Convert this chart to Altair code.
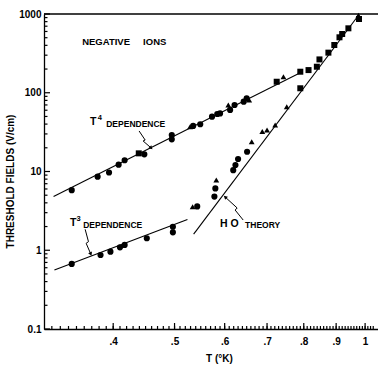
import altair as alt
import pandas as pd

# ---------------- data ----------------
# upper branch (T^4 dependence region and beyond)
up_T = [0.344, 0.378, 0.394, 0.408, 0.417, 0.439, 0.448, 0.495, 0.495,
        0.529, 0.535, 0.549, 0.573, 0.584, 0.590, 0.608, 0.612, 0.622, 0.643, 0.650, 0.656,
        0.725, 0.743, 0.790, 0.814]
up_V = [5.8, 8.6, 9.7, 12.2, 13.9, 17.0, 16.5, 29.0, 25.6,
        37.1, 37.9, 39.8, 49.7, 53.7, 54.6, 69.9, 60.5, 69.9, 77.0, 85.0, 81.0,
        138, 160, 185, 194]
up_shape = ["circle"] * 5 + ["square", "circle", "circle", "circle",
            "triangle", "circle", "circle", "circle", "circle", "circle",
            "triangle", "circle", "circle", "circle", "circle", "triangle",
            "square", "triangle", "square", "square"]

# steep branch (HO theory region)
ho_T = [0.534, 0.543, 0.578, 0.580, 0.582, 0.619, 0.624, 0.630, 0.651, 0.662,
        0.688, 0.700, 0.721, 0.752, 0.790, 0.839, 0.847, 0.875, 0.894, 0.911,
        0.920, 0.941, 0.976, 0.978]
ho_V = [3.57, 3.6, 4.8, 6.1, 7.8, 10.4, 12.1, 14.4, 17.8, 23.9,
        32.2, 33.7, 38.9, 66.6, 114, 214, 265, 323, 404, 506,
        557, 658, 960, 864]
ho_shape = ["triangle", "circle", "circle", "circle", "triangle",
            "circle", "circle", "circle", "circle",
            "triangle", "triangle", "triangle", "triangle", "triangle",
            "square", "square", "square", "square", "square", "square", "square", "square",
            "triangle", "square"]

# lower branch (T^3 dependence)
t3_T = [0.344, 0.382, 0.396, 0.410, 0.417, 0.452, 0.497, 0.497]
t3_V = [0.67, 0.87, 0.96, 1.09, 1.17, 1.42, 1.99, 1.69]
t3_shape = ["circle"] * 8

# fitted / theory lines (end points)
line_names = ["T4", "T4", "T3", "T3", "HO", "HO"]
line_T = [0.322, 0.790, 0.323, 0.524, 0.536, 0.975]
line_V = [4.8, 180, 0.56, 2.45, 1.6, 950]

# annotation arrows (zig-zag pointers)
arrow_names = ["a4"] * 4 + ["a3"] * 4 + ["aho"] * 4
arrow_T = [0.4395, 0.4493, 0.4460, 0.4592,
           0.3612, 0.3656, 0.3625, 0.3687,
           0.6418, 0.6233, 0.6279, 0.6011]
arrow_V = [32.7, 25.1, 24.4, 19.9,
           1.845, 1.285, 1.225, 0.896,
           2.42, 3.24, 3.44, 4.74]
head_T = [0.4592, 0.3687, 0.6011]
head_V = [19.9, 0.896, 4.74]
head_angle = [135, 156, 312]

# annotation texts
txt_label = ["NEGATIVE", "IONS", "T", "4", "DEPENDENCE", "T", "3", "DEPENDENCE", "H O", "THEORY"]
txt_T = [0.3573, 0.446, 0.3678, 0.378, 0.390, 0.342, 0.350, 0.3586, 0.590, 0.6463]
txt_V = [441, 441, 42.5, 47.8, 40.1, 2.22, 2.49, 2.09, 2.154, 2.09]
txt_size = [9.5, 9.5, 10.5, 7.5, 8.5, 10.5, 7.5, 8.5, 10.5, 8.5]

# axis tick positions and labels
x_major = [0.4, 0.5, 0.6, 0.7, 0.8, 0.9, 1.0]
x_minor = [round(0.32 + 0.01 * i, 2) for i in range(72)]
y_major = [0.1, 1, 10, 100, 1000]
y_minor = [round(m * 10 ** e, 4) for e in range(-1, 3) for m in range(2, 10)]

# ---------------- tables ----------------
pts = pd.DataFrame({
    "T": up_T + ho_T + t3_T,
    "V": up_V + ho_V + t3_V,
    "shape": up_shape + ho_shape + t3_shape,
})
lines = pd.DataFrame({"name": line_names, "T": line_T, "V": line_V})
arrows = pd.DataFrame({"name": arrow_names, "T": arrow_T, "V": arrow_V,
                       "i": list(range(len(arrow_T)))})
heads = pd.DataFrame({"T": head_T, "V": head_V, "angle": head_angle})
texts = pd.DataFrame({"label": txt_label, "T": txt_T, "V": txt_V, "fs": txt_size})

W, H = 334, 315
FONT = "Liberation Sans"
xs = alt.Scale(type="log", domain=[0.311, 1.048], nice=False, zero=False)
ys = alt.Scale(type="log", domain=[0.1, 1000], nice=False, zero=False)

x_axis = alt.Axis(
    values=x_major,
    labelExpr="datum.value >= 0.999 ? '1' : '.' + round(datum.value * 10)",
    ticks=False, domain=True, domainColor="black", domainWidth=1.3,
    labelFont=FONT, labelFontSize=10, labelFontWeight="bold", labelColor="black",
    labelPadding=7, labelOverlap=False, labelFlush=False,
    title="T (\u00b0K)", titleFont=FONT, titleFontSize=10, titleFontWeight="bold",
    titleColor="black", titlePadding=7, titleX=175, grid=False)
y_axis = alt.Axis(
    values=y_major,
    labelExpr="datum.value < 0.5 ? '0.1' : format(datum.value, 'd')",
    ticks=False, domain=True, domainColor="black", domainWidth=1.3,
    labelFont=FONT, labelFontSize=10, labelFontWeight="bold", labelColor="black",
    labelPadding=3, labelOverlap=False, labelFlush=False,
    title="THRESHOLD FIELDS (V/cm)", titleFont=FONT, titleFontSize=10,
    titleFontWeight="bold", titleColor="black", titlePadding=3, titleY=167, grid=False)

# same axis definition on every layer so that they merge into one
xe = alt.X("T:Q", scale=xs, axis=x_axis)
ye = alt.Y("V:Q", scale=ys, axis=y_axis)

points = alt.Chart(pts).mark_point(filled=True, color="black", opacity=1).encode(
    x=xe, y=ye,
    shape=alt.Shape("shape:N", scale=alt.Scale(domain=["circle", "square", "triangle"],
                                              range=["circle", "square", "triangle-up"]),
                    legend=None),
    size=alt.Size("shape:N", scale=alt.Scale(domain=["circle", "square", "triangle"],
                                            range=[38, 34, 38]), legend=None),
)

fit = alt.Chart(lines).mark_line(color="black", strokeWidth=1.1).encode(
    x=xe, y=ye, detail="name:N")

arr = alt.Chart(arrows).mark_line(color="black", strokeWidth=1.0).encode(
    x=xe, y=ye, detail="name:N", order="i:Q")

hd = alt.Chart(heads).mark_point(filled=True, color="black", shape="triangle-up",
                                 size=18, opacity=1).encode(
    x=xe, y=ye, angle=alt.Angle("angle:Q", scale=None))

tx = alt.Chart(texts).mark_text(align="left", baseline="middle", font=FONT,
                                fontWeight="bold", color="black").encode(
    x=xe, y=ye, text="label:N", size=alt.Size("fs:Q", scale=None))

# inward-pointing axis ticks (drawn as rules at the tick values)
xt_minor = alt.Chart(pd.DataFrame({"T": x_minor})).mark_rule(color="black", strokeWidth=1.2).encode(
    x=xe, y=alt.value(H - 3), y2=alt.value(H))
xt_major = alt.Chart(pd.DataFrame({"T": x_major})).mark_rule(color="black", strokeWidth=1.2).encode(
    x=xe, y=alt.value(H - 6), y2=alt.value(H))
yt_minor = alt.Chart(pd.DataFrame({"V": y_minor})).mark_rule(color="black", strokeWidth=1.2).encode(
    y=ye, x=alt.value(0), x2=alt.value(3.5))
yt_major = alt.Chart(pd.DataFrame({"V": y_major})).mark_rule(color="black", strokeWidth=1.2).encode(
    y=ye, x=alt.value(0), x2=alt.value(6))

top_border = alt.Chart(pd.DataFrame({"k": [0]})).mark_rule(color="black", strokeWidth=1.3).encode(
    x=alt.value(0), x2=alt.value(W), y=alt.value(0))

chart = alt.layer(points, fit, arr, hd, tx, top_border, xt_minor, xt_major, yt_minor, yt_major).properties(
    width=W, height=H,
    padding={"left": 44, "top": 14, "right": 0, "bottom": 37},
    autosize=alt.AutoSizeParams(type="none"),
    background="white",
).configure_view(stroke=None)

chart.save("out.html", embed_options={"renderer": "svg", "actions": False})
